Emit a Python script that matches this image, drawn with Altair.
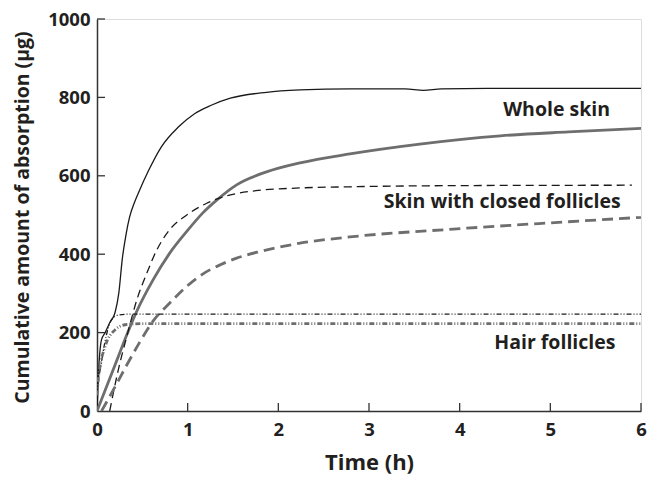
import altair as alt
import pandas as pd

# ---- data ----
ws1_t = [0.0, 0.015, 0.05, 0.09, 0.14, 0.2, 0.24, 0.28, 0.32, 0.36, 0.41, 0.46, 0.57, 0.71, 0.9, 1.08, 1.26, 1.47, 1.87, 2.24, 2.8, 3.4, 3.6, 3.8, 4.5, 5.2, 6.0]
ws1_v = [0, 89, 182, 200, 225, 252, 300, 390, 450, 495, 530, 558, 614, 674, 725, 759, 780, 798, 813, 819, 822, 822, 818, 822, 823, 823, 823]

ws2_t = [0.0, 0.2, 0.33, 0.44, 0.62, 0.8, 0.99, 1.17, 1.32, 1.54, 1.87, 2.24, 2.79, 3.56, 4.45, 5.2, 6.0]
ws2_v = [0, 118, 195, 255, 335, 402, 458, 506, 538, 577, 610, 633, 656, 681, 702, 712, 721]

cf1_t = [0.14, 0.23, 0.34, 0.44, 0.55, 0.66, 0.8, 0.99, 1.21, 1.45, 1.75, 2.24, 2.79, 4.0, 5.9]
cf1_v = [0, 100, 200, 284, 352, 411, 462, 500, 530, 550, 562, 569, 572, 575, 576]

cf2_t = [0.05, 0.2, 0.33, 0.47, 0.62, 0.8, 0.99, 1.17, 1.36, 1.54, 1.8, 2.24, 2.79, 3.93, 5.0, 6.0]
cf2_v = [0, 62, 118, 175, 230, 275, 318, 350, 373, 390, 407, 428, 444, 464, 480, 494]

hf1_t = [0.0, 0.03, 0.1, 0.16, 0.24, 0.35, 1.0, 3.0, 6.0]
hf1_v = [63, 100, 190, 233, 245, 247, 247, 247, 247]

hf2_t = [0.0, 0.015, 0.09, 0.2, 0.31, 0.5, 1.0, 3.0, 6.0]
hf2_v = [40, 80, 165, 207, 220, 223, 223, 223, 223]

x_ticks = [0, 1, 2, 3, 4, 5, 6]
y_ticks = [0, 200, 400, 600, 800, 1000]

label_text = ["Whole skin", "Skin with closed follicles", "Hair follicles"]
label_t = [5.07, 4.47, 5.05]
label_v = [767, 533, 174]

FONT = "Open Sans"
WEIGHT = "bold"
INK = "#231f20"
GRAY = "#6e6e6e"

W, H = 544, 392

xs = alt.Scale(domain=[0, 6], nice=False, zero=False)
ys = alt.Scale(domain=[0, 1000], nice=False)

x_axis = alt.Axis(values=x_ticks, format="d", tickSize=0, labelPadding=9, labelFontSize=18.5,
                  labelFont=FONT, labelFontWeight=WEIGHT, labelColor=INK,
                  domainColor="#333333", domainWidth=1.5, grid=False,
                  title="Time (h)", titleFont=FONT, titleFontSize=22,
                  titleFontWeight=WEIGHT, titleColor=INK, titleY=51,
                  titleBaseline="middle", labelFlush=False)
y_axis = alt.Axis(values=y_ticks, format="d", tickSize=0, labelPadding=7, labelFontSize=18.5,
                  labelFont=FONT, labelFontWeight=WEIGHT, labelColor=INK,
                  domainColor="#333333", domainWidth=1.5, grid=False,
                  title="Cumulative amount of absorption (µg)", titleFont=FONT,
                  titleFontSize=19.5, titleFontWeight=WEIGHT, titleColor=INK,
                  titleX=-75, titleY=H / 2 + 2, titleAngle=-90, titleAlign="center",
                  titleBaseline="middle", labelFlush=False)


def series(t, v, color, width, dash):
    df = pd.DataFrame({"t": t, "v": v})
    kw = dict(color=color, strokeWidth=width, interpolate="monotone", clip=True)
    if dash:
        kw["strokeDash"] = dash
    return alt.Chart(df).mark_line(**kw).encode(
        x=alt.X("t:Q", scale=xs, axis=x_axis),
        y=alt.Y("v:Q", scale=ys, axis=y_axis),
    )


dd = [5, 2, 1, 2, 1, 2]
layers = [
    series(ws1_t, ws1_v, "#1a1a1a", 1.3, None),
    series(ws2_t, ws2_v, GRAY, 2.8, None),
    series(cf1_t, cf1_v, "#1a1a1a", 1.3, [8, 5]),
    series(cf2_t, cf2_v, GRAY, 2.8, [11, 6]),
    series(hf1_t, hf1_v, "#1a1a1a", 1.3, dd),
    series(hf2_t, hf2_v, GRAY, 2.8, dd),
]

xt = alt.Chart(pd.DataFrame({"t": x_ticks[1:]})).mark_rule(color="#333333", strokeWidth=1.3).encode(
    x=alt.X("t:Q", scale=xs), y=alt.value(H), y2=alt.value(H - 8))
yt = alt.Chart(pd.DataFrame({"v": y_ticks[1:]})).mark_rule(color="#333333", strokeWidth=1.3).encode(
    y=alt.Y("v:Q", scale=ys), x=alt.value(0), x2=alt.value(8))

labels = alt.Chart(pd.DataFrame({"t": label_t, "v": label_v, "s": label_text})).mark_text(
    font=FONT, fontSize=19.5, fontWeight=WEIGHT, color=INK, align="center", baseline="middle"
).encode(x=alt.X("t:Q", scale=xs), y=alt.Y("v:Q", scale=ys), text="s:N")

chart = alt.layer(*layers, xt, yt, labels).properties(
    width=W, height=H,
    autosize=alt.AutoSizeParams(type="none"),
    padding={"left": 97, "top": 19, "right": 8, "bottom": 66},
).configure_view(stroke=None).configure(background="white")

chart.save("out.html", embed_options={"renderer": "svg", "actions": False})
